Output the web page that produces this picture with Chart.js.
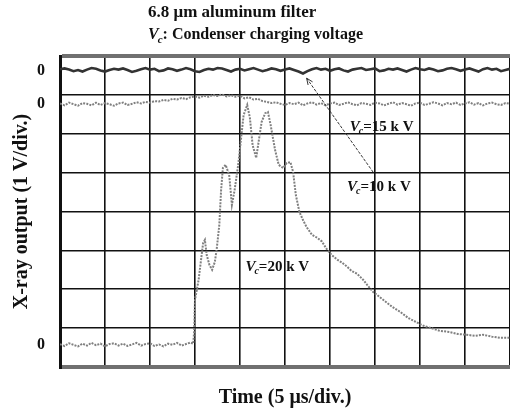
<!DOCTYPE html>
<html><head><meta charset="utf-8">
<script src="https://cdn.jsdelivr.net/npm/chart.js@4.4.1/dist/chart.umd.min.js"></script>
<style>html,body{margin:0;padding:0;background:#fff;overflow:hidden}</style>
</head><body>
<canvas id="c" width="510" height="413"></canvas>
<script>
// ---------- texts ----------
const titleLine1 = '6.8 \u03bcm aluminum filter';
const titleLine2Rest = ': Condenser charging voltage';
const xTitle = 'Time (5 \u03bcs/div.)';
const yTitle = 'X-ray output (1 V/div.)';
const zeroTickLabel = '0';

// ---------- data (time in µs, output in V, 1 V/div) ----------
const seriesNames = ['10 k V', '15 k V', '20 k V'];
const zeroLevels = [7.63, 6.76, 0.57];      // trace zero offsets on the screen (div)
const sampleStep = 0.5;                     // µs between samples of the 10 kV / 15 kV traces

const v10 = [
  0.03, 0.05, 0.02,-0.02, 0.01,-0.03, 0.02, 0.06, 0.04, 0.00,
 -0.03, 0.01, 0.04, 0.02, 0.05, 0.01,-0.04,-0.01, 0.03, 0.06,
  0.02, 0.04,-0.02, 0.00, 0.05, 0.03,-0.01, 0.02, 0.06, 0.03,
 -0.02,-0.04, 0.01, 0.04, 0.02, 0.06, 0.05, 0.01,-0.03, 0.02,
  0.04, 0.00, 0.03, 0.06, 0.02,-0.02, 0.01, 0.05, 0.03,-0.01,
  0.02, 0.05, 0.01,-0.03,-0.08,-0.02, 0.03, 0.06, 0.02, 0.04,
 -0.01, 0.03, 0.05, 0.00,-0.03, 0.02, 0.04, 0.06, 0.01, 0.03,
  0.05,-0.02, 0.00, 0.04, 0.02, 0.05, 0.01,-0.03, 0.02, 0.06,
  0.03, 0.01, 0.05, 0.02,-0.02, 0.00, 0.04, 0.06, 0.03,-0.01,
  0.02, 0.05, 0.01,-0.03, 0.03, 0.06, 0.02, 0.04,-0.02, 0.01,
  0.04
];
const v15 = [
  0.02,-0.03, 0.04, 0.00,-0.04, 0.03, 0.01,-0.03, 0.04,-0.02,
  0.03, 0.00,-0.04, 0.02, 0.04,-0.02, 0.01, 0.05, 0.02, 0.06,
  0.04, 0.08, 0.07, 0.11, 0.09, 0.14, 0.12, 0.16, 0.13, 0.18,
  0.20, 0.17, 0.22, 0.19, 0.24, 0.21, 0.25, 0.20, 0.23, 0.19,
  0.22, 0.15, 0.18, 0.12, 0.14, 0.08, 0.06, 0.03, 0.05, 0.01,
 -0.02, 0.03, 0.00, 0.04,-0.03, 0.02, 0.05,-0.01, 0.03,-0.03,
  0.02, 0.04,-0.02, 0.01, 0.05, 0.00,-0.03, 0.03, 0.01,-0.02,
  0.04, 0.02,-0.03, 0.01, 0.05,-0.01, 0.03, 0.00,-0.04, 0.02,
  0.04,-0.02, 0.01, 0.05, 0.02,-0.03, 0.03, 0.00, 0.04,-0.02,
  0.02, 0.05,-0.01, 0.03,-0.03, 0.02, 0.04, 0.00,-0.02, 0.03,
  0.01
];
const t20 = [
  0, 0.5, 1, 1.5, 2, 2.5, 3, 3.5, 4, 4.5,
  5, 5.5, 6, 6.5, 7, 7.5, 8, 8.5, 9, 9.5,
  10, 10.5, 11, 11.5, 12, 12.5, 13, 13.5, 14, 14.5,
  14.8, 14.9, 15.0, 15.2, 15.4, 15.7, 15.9, 16.1, 16.3, 16.6,
  16.9, 17.2, 17.4, 17.7, 17.9, 18.1, 18.4, 18.8, 19.1, 19.4,
  19.8, 20.1, 20.4, 20.8, 21.1, 21.4, 21.8, 22.1, 22.4, 22.8,
  23.1, 23.4, 23.9, 24.3, 24.8, 25.2, 25.6, 25.9, 26.2, 26.6,
  27.0, 27.4, 28.0, 28.6, 29.1, 29.7, 30.2, 30.8, 31.3, 31.9,
  32.4, 33.0, 33.7, 34.2, 34.8, 35.9, 36.9, 37.8, 38.7, 39.7,
  40.4, 41.1, 42.2, 43.3, 44.2, 45.2, 46.1, 47.0, 48.0, 48.9,
  50
];
const v20 = [
  0.02,-0.03, 0.04, 0.00,-0.04, 0.03,-0.02, 0.05,-0.01, 0.03,
 -0.04, 0.02, 0.04,-0.02, 0.03,-0.03, 0.01, 0.05,-0.02, 0.02,
  0.04,-0.03, 0.01,-0.04, 0.03, 0.00, 0.05,-0.02, 0.02, 0.06,
  0.03, 0.33, 1.16, 1.41, 1.67, 2.24, 2.62, 2.70, 2.31, 2.06,
  1.93, 2.13, 2.44, 3.08, 3.98, 4.55, 4.63, 4.37, 3.60, 3.98,
  4.63, 5.27, 5.91, 6.17, 5.84, 5.14, 4.81, 5.27, 5.73, 5.96,
  5.99, 5.66, 5.01, 4.63, 4.55, 4.68, 4.70, 4.45, 3.86, 3.42,
  3.21, 3.03, 2.83, 2.75, 2.66, 2.44, 2.31, 2.19, 2.12, 2.01,
  1.90, 1.83, 1.67, 1.52, 1.36, 1.16, 0.98, 0.85, 0.69, 0.57,
  0.49, 0.44, 0.36, 0.33, 0.28, 0.26, 0.23, 0.26, 0.21, 0.18,
  0.18
];

// annotation anchors (x in µs, y in div on screen)
const labelAnchors = [[32.2, 6.17], [31.9, 4.63], [20.6, 2.57]]; // 15 kV, 10 kV, 20 kV
const labelNames = [seriesNames[1], seriesNames[0], seriesNames[2]];
const arrow10 = [[27.4, 7.43], [34.8, 5.01]];

// ---------- helpers ----------
const SERIF = "'Liberation Serif','Times New Roman',serif";
const toPoints = (vals, times, zero) => vals.map((v, i) => ({x: times ? times[i] : i * sampleStep, y: v + zero}));

function drawVc(ctx, x, y, size, rest) {
  ctx.save();
  ctx.textBaseline = 'middle';
  ctx.textAlign = 'left';
  const fV = `italic bold ${size}px ${SERIF}`;
  const fc = `italic bold ${Math.round(size * 0.68)}px ${SERIF}`;
  const fR = `bold ${size}px ${SERIF}`;
  ctx.font = fV; const wV = ctx.measureText('V').width;
  ctx.font = fc; const wc = ctx.measureText('c').width;
  ctx.fillStyle = '#111';
  ctx.font = fV; ctx.fillText('V', x, y);
  ctx.font = fc; ctx.fillText('c', x + wV - 1, y + size * 0.3);
  ctx.font = fR; ctx.fillText(rest, x + wV + wc - 1, y);
  ctx.restore();
}

const annotPlugin = {
  id: 'annot',
  afterDraw(chart) {
    const {ctx, scales: {x, y}} = chart;
    // title
    ctx.save();
    ctx.fillStyle = '#111';
    ctx.textBaseline = 'middle';
    ctx.textAlign = 'left';
    ctx.font = `bold 17px ${SERIF}`;
    ctx.fillText(titleLine1, 148, 13);
    ctx.restore();
    drawVc(ctx, 148, 35, 16, titleLine2Rest);
    // arrow to 10 kV trace
    const p0 = [x.getPixelForValue(arrow10[0][0]), y.getPixelForValue(arrow10[0][1])];
    const p1 = [x.getPixelForValue(arrow10[1][0]), y.getPixelForValue(arrow10[1][1])];
    ctx.save();
    ctx.strokeStyle = '#333';
    ctx.lineWidth = 1;
    ctx.setLineDash([3, 1.5]);
    ctx.beginPath(); ctx.moveTo(p1[0], p1[1]); ctx.lineTo(p0[0], p0[1]); ctx.stroke();
    ctx.setLineDash([]);
    const ang = Math.atan2(p1[1] - p0[1], p1[0] - p0[0]);
    ctx.beginPath();
    ctx.moveTo(p0[0] + 7 * Math.cos(ang + 0.4), p0[1] + 7 * Math.sin(ang + 0.4));
    ctx.lineTo(p0[0], p0[1]);
    ctx.lineTo(p0[0] + 7 * Math.cos(ang - 0.4), p0[1] + 7 * Math.sin(ang - 0.4));
    ctx.stroke();
    ctx.restore();
    // labels
    labelAnchors.forEach((a, i) => {
      drawVc(ctx, x.getPixelForValue(a[0]), y.getPixelForValue(a[1]), 15, '=' + labelNames[i]);
    });
  }
};

const edge = v => v === 0 || v === 8;

new Chart(document.getElementById('c'), {
  type: 'line',
  data: {
    datasets: [
      {label: 'Vc=' + seriesNames[0], data: toPoints(v10, null, zeroLevels[0]),
       borderColor: '#333', borderWidth: 2.6, pointRadius: 0, tension: 0, yAxisID: 'y'},
      {label: 'Vc=' + seriesNames[1], data: toPoints(v15, null, zeroLevels[1]),
       borderColor: '#808080', borderWidth: 2, borderDash: [2, 1.2], pointRadius: 0, tension: 0, yAxisID: 'y'},
      {label: 'Vc=' + seriesNames[2], data: toPoints(v20, t20, zeroLevels[2]),
       borderColor: '#808080', borderWidth: 2, borderDash: [2, 1.2], pointRadius: 0, tension: 0, yAxisID: 'y'}
    ]
  },
  options: {
    responsive: false,
    animation: false,
    layout: {padding: {top: 56, right: 0, bottom: 0, left: 0}},
    plugins: {legend: {display: false}, tooltip: {enabled: false}, title: {display: false}},
    scales: {
      x: {
        type: 'linear', min: 0, max: 50,
        ticks: {display: false, stepSize: 5},
        grid: {color: '#111', lineWidth: c => (c.tick.value === 0 ? 3 : 1.6), drawTicks: false},
        border: {display: false},
        title: {display: true, text: xTitle, color: '#111',
                font: {family: SERIF, size: 20, weight: 'bold'}, padding: {top: 0, bottom: 3}},
        afterFit: s => { s.height = 46; }
      },
      y: {
        type: 'linear', position: 'left', min: 0, max: 8,
        ticks: {display: false, stepSize: 1},
        grid: {color: c => (edge(c.tick.value) ? '#707070' : '#111'),
               lineWidth: c => (edge(c.tick.value) ? 4 : 1.6), drawTicks: false},
        border: {display: true, color: '#111', width: 3},
        afterFit: s => { s.width = 0; }
      },
      yl: {
        type: 'linear', position: 'left', min: 0, max: 8,
        afterBuildTicks: s => { s.ticks = zeroLevels.map(v => ({value: v})); },
        ticks: {autoSkip: false, callback: () => zeroTickLabel, padding: 15, color: '#111',
                font: {family: SERIF, size: 16, weight: 'bold'}},
        grid: {display: false, drawTicks: false},
        border: {display: false},
        title: {display: true, text: yTitle, color: '#111',
                font: {family: SERIF, size: 20, weight: 'bold'}, padding: {top: 10, bottom: 0}},
        afterFit: s => { s.width = 60; }
      }
    }
  },
  plugins: [annotPlugin]
});
</script>
</body></html>
